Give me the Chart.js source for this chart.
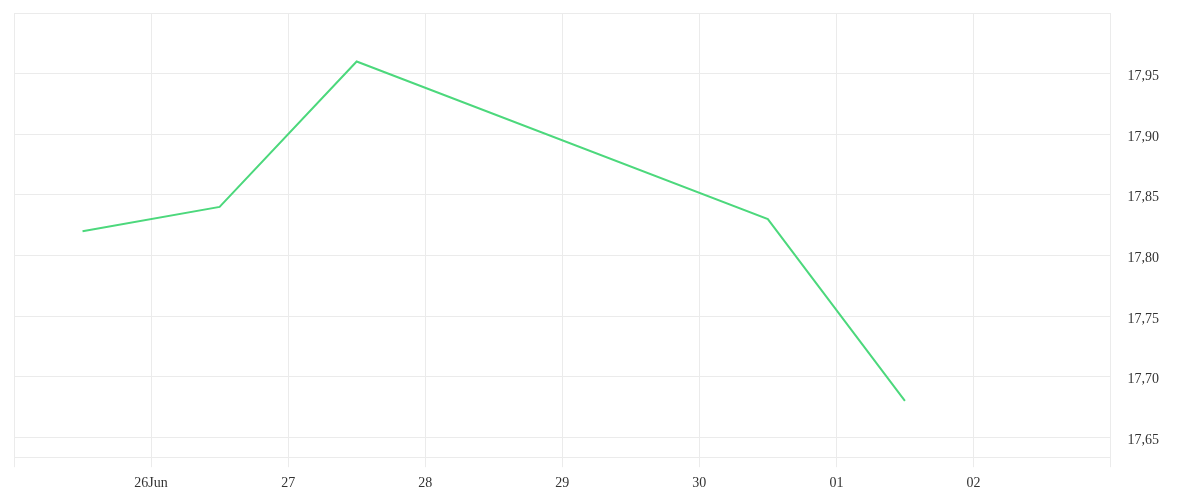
<!DOCTYPE html>
<html>
<head>
<meta charset="utf-8">
<script src="https://cdn.jsdelivr.net/npm/chart.js@4"></script>
<style>
  html, body { margin: 0; padding: 0; background: #fff; }
  #wrap { width: 1200px; height: 500px; }
</style>
</head>
<body>
<div id="wrap"><canvas id="chart"></canvas></div>
<script>
// days counted from 25 Jun 00:00, points sit at midday
const DAY_LABELS = ["", "26Jun", "27", "28", "29", "30", "01", "02", ""];
const POINT_DAYS = [0.5, 1.5, 2.5, 5.5, 6.5];
const PRICES = [17.82, 17.84, 17.96, 17.83, 17.68];

const Y_MIN = 17.6335;
const Y_MAX = 18.0;
const GRID = "#ebebeb";
const TEXT = "#333";
const FONT = { family: "'Liberation Serif', 'DejaVu Serif', serif", size: 14 };

const ctx = document.getElementById("chart");
new Chart(ctx, {
  type: "line",
  data: {
    datasets: [{
      data: POINT_DAYS.map((d, i) => ({ x: d, y: PRICES[i] })),
      borderColor: "#4cd87c",
      borderWidth: 2,
      pointRadius: 0,
      tension: 0
    }]
  },
  options: {
    responsive: true,
    maintainAspectRatio: false,
    animation: false,
    layout: { padding: { left: 14, top: 13, right: 24, bottom: 0 } },
    plugins: { legend: { display: false }, tooltip: { enabled: false } },
    scales: {
      x: {
        type: "linear",
        min: 0,
        max: 8,
        grid: { color: GRID, tickLength: 10, tickColor: GRID },
        border: { color: GRID },
        ticks: {
          stepSize: 1,
          color: TEXT,
          font: FONT,
          maxRotation: 0,
          autoSkip: false,
          padding: 8,
          callback: v => DAY_LABELS[v] ?? ""
        }
      },
      y: {
        position: "right",
        min: Y_MIN,
        max: Y_MAX,
        afterFit: s => { s.paddingTop = 0; s.paddingBottom = 0; },
        grid: { color: GRID, drawTicks: false },
        border: { color: GRID },
        ticks: {
          stepSize: 0.05,
          color: TEXT,
          font: FONT,
          padding: 17,
          labelOffset: 3,
          callback: v => {
            if (v < 17.64 || v > 17.99) return "";
            return v.toFixed(2).replace(".", ",");
          }
        }
      }
    }
  }
});
</script>
</body>
</html>
